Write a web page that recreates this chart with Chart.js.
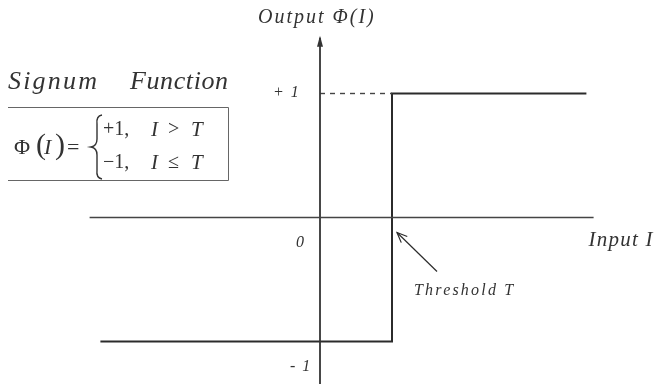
<!DOCTYPE html>
<html>
<head>
<meta charset="utf-8">
<script src="https://cdn.jsdelivr.net/npm/chart.js@4/dist/chart.umd.min.js"></script>
<style>
html,body{margin:0;padding:0;background:#fff;}
#wrap{width:657px;height:384px;}
</style>
</head>
<body>
<div id="wrap"><canvas id="c" width="657" height="384"></canvas></div>
<script>
// ---- data ----
const threshold = 1;                       // T
const inputI = [-3.05, 1, 1, 3.7];         // step curve, input values
const outputPhi = [-1, -1, 1, 1];          // step curve, output values
const xAxisEnds = [-3.2, 3.8];             // horizontal (input) axis extent
const yAxisEnds = [-1.4, 1.45];            // vertical (output) axis extent
const yTickValues = [1, 0, -1];
const yTickLabels = ['+ 1', '0', '- 1'];
const xAxisTitle = 'Input I';
const yAxisTitle = 'Output \u03A6(I)';
const thresholdLabel = 'Threshold T';

const ink = '#2b2b2b';
const serif = '"Liberation Serif", "DejaVu Serif", serif';

const stepData = inputI.map((x, i) => ({x, y: outputPhi[i]}));
const xAxisData = xAxisEnds.map(x => ({x, y: 0}));
const yAxisData = yAxisEnds.map(y => ({x: 0, y}));
const dashData = [{x: 0, y: 1}, {x: threshold, y: 1}];

function txt(ctx, s, x, y, font, spacing) {
  ctx.font = font;
  ctx.letterSpacing = (spacing || 0) + 'px';
  ctx.fillText(s, x, y);
  ctx.letterSpacing = '0px';
}

const annot = {
  id: 'annot',
  afterDraw(chart) {
    const ctx = chart.ctx;
    const xs = chart.scales.x, ys = chart.scales.y;
    const px = v => xs.getPixelForValue(v), py = v => ys.getPixelForValue(v);
    ctx.save();
    ctx.fillStyle = '#333';
    ctx.strokeStyle = ink;
    // vertical axis arrow head
    const ax = px(0), ay = py(yAxisEnds[1]);
    ctx.beginPath();
    ctx.moveTo(ax, ay - 2);
    ctx.lineTo(ax - 3, ay + 9);
    ctx.lineTo(ax + 3, ay + 9);
    ctx.closePath();
    ctx.fill();
    ctx.textBaseline = 'middle';
    ctx.textAlign = 'left';
    // axis titles
    txt(ctx, yAxisTitle, 258, 18, 'italic 20px ' + serif, 2);
    txt(ctx, xAxisTitle, px(xAxisEnds[1]) - 5, py(0) + 23, 'italic 21px ' + serif, 1.2);
    // tick labels
    txt(ctx, yTickLabels[0], 273, py(yTickValues[0]) - 1, 'italic 16px ' + serif, 1.5);
    txt(ctx, yTickLabels[1], 296, py(yTickValues[1]) + 25, 'italic 16px ' + serif, 0);
    txt(ctx, yTickLabels[2], 290, py(yTickValues[2]) + 25, 'italic 16px ' + serif, 1.5);
    // threshold arrow
    const tx = px(threshold) + 5, ty = py(0) + 15;
    const sx = tx + 40, sy = ty + 39;
    ctx.lineWidth = 1.2;
    ctx.beginPath();
    ctx.moveTo(sx, sy);
    ctx.lineTo(tx, ty);
    ctx.stroke();
    const ang = Math.atan2(sy - ty, sx - tx);
    ctx.beginPath();
    ctx.moveTo(tx + 11 * Math.cos(ang - 0.4), ty + 11 * Math.sin(ang - 0.4));
    ctx.lineTo(tx, ty);
    ctx.lineTo(tx + 11 * Math.cos(ang + 0.4), ty + 11 * Math.sin(ang + 0.4));
    ctx.stroke();
    txt(ctx, thresholdLabel, 414, 291, 'italic 16px ' + serif, 2.2);
    // formula panel
    txt(ctx, 'Signum', 8, 82, 'italic 26px ' + serif, 2.2);
    txt(ctx, 'Function', 130, 82, 'italic 26px ' + serif, 0.6);
    ctx.lineWidth = 1;
    ctx.strokeStyle = '#666';
    ctx.beginPath();
    ctx.moveTo(8, 107.5); ctx.lineTo(228.5, 107.5); ctx.lineTo(228.5, 180.5); ctx.lineTo(8, 180.5);
    ctx.stroke();
    ctx.fillStyle = '#333';
    txt(ctx, '\u03A6', 14, 148, '22px ' + serif);
    txt(ctx, '(', 36, 146, '30px ' + serif);
    txt(ctx, ')', 55, 146, '30px ' + serif);
    txt(ctx, 'I', 44, 148, 'italic 22px ' + serif);
    txt(ctx, '=', 67, 148, '22px ' + serif);
    // brace
    ctx.lineWidth = 1.4;
    ctx.strokeStyle = '#333';
    ctx.beginPath();
    ctx.moveTo(102, 115);
    ctx.quadraticCurveTo(96, 116, 97, 124);
    ctx.lineTo(97, 139);
    ctx.quadraticCurveTo(97, 146, 91, 147);
    ctx.quadraticCurveTo(97, 148, 97, 155);
    ctx.lineTo(97, 170);
    ctx.quadraticCurveTo(96, 178, 102, 179);
    ctx.stroke();
    txt(ctx, '+1,', 103, 130, '20px ' + serif);
    txt(ctx, '\u22121,', 103, 163, '20px ' + serif);
    txt(ctx, 'I', 151, 130, 'italic 21px ' + serif);
    txt(ctx, 'I', 151, 163, 'italic 21px ' + serif);
    txt(ctx, 'T', 191, 130, 'italic 21px ' + serif);
    txt(ctx, 'T', 191, 163, 'italic 21px ' + serif);
    txt(ctx, '>', 168, 130, '20px ' + serif);
    txt(ctx, '\u2264', 168, 163, '20px ' + serif);
    ctx.restore();
  }
};

const W = 657, H = 384;
const originX = 320, unitX = 72, originY = 217.5, unitY = 124;

new Chart(document.getElementById('c'), {
  type: 'scatter',
  data: {
    datasets: [
      {data: xAxisData, showLine: true, borderColor: '#444', borderWidth: 1.6, pointRadius: 0},
      {data: yAxisData, showLine: true, borderColor: '#333', borderWidth: 1.8, pointRadius: 0},
      {data: dashData, showLine: true, borderColor: '#444', borderWidth: 1.4, borderDash: [5, 5], pointRadius: 0},
      {data: stepData, showLine: true, borderColor: ink, borderWidth: 2, pointRadius: 0, tension: 0}
    ]
  },
  options: {
    responsive: false,
    animation: false,
    events: [],
    layout: {padding: 0},
    plugins: {legend: {display: false}, tooltip: {enabled: false}},
    scales: {
      x: {type: 'linear', display: false, min: -originX / unitX, max: (W - originX) / unitX},
      y: {type: 'linear', display: false, min: -(H - originY) / unitY, max: originY / unitY}
    }
  },
  plugins: [annot]
});
</script>
</body>
</html>
